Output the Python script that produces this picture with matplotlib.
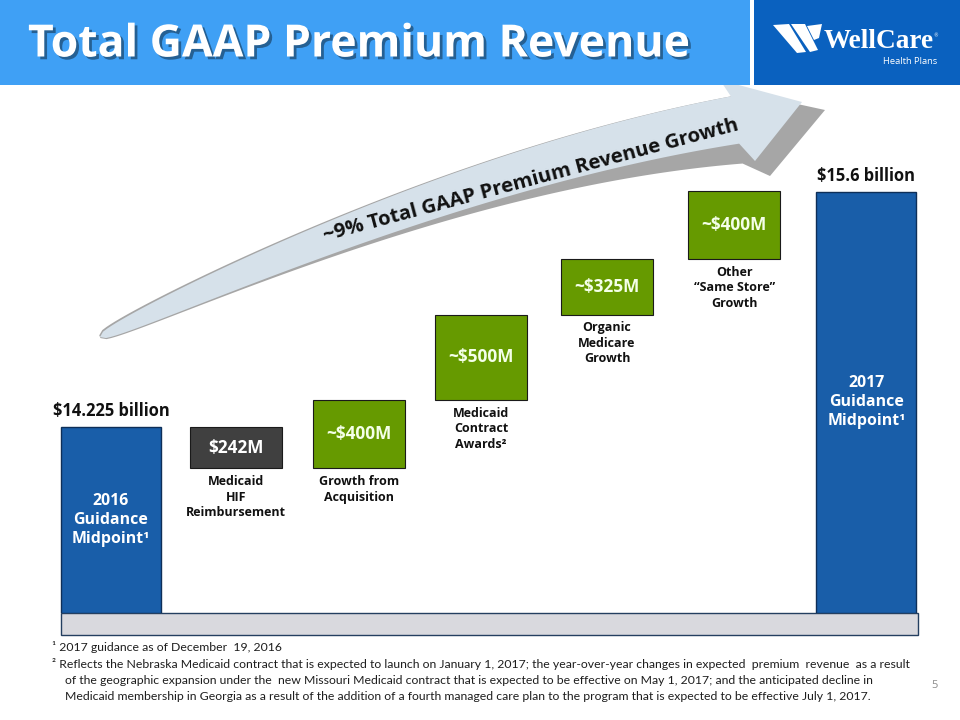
import numpy as np
import matplotlib
matplotlib.use("Agg")
import matplotlib.pyplot as plt
from matplotlib.patches import Polygon, Rectangle
import matplotlib.patheffects as pe
from matplotlib import font_manager as fm

# ---------------- data ----------------
categories = ["2016\nGuidance\nMidpoint¹",
              "Medicaid\nHIF\nReimbursement",
              "Growth from\nAcquisition",
              "Medicaid\nContract\nAwards²",
              "Organic\nMedicare\nGrowth",
              "Other\n“Same Store”\nGrowth",
              "2017\nGuidance\nMidpoint¹"]
start_total = 14225          # $M, 2016 guidance midpoint
end_total = 15600            # $M, 2017 guidance midpoint
changes = [-242, 400, 500, 325, 400]   # $M
change_labels = ["$242M", "~$400M", "~$500M", "~$325M", "~$400M"]
total_labels = ["$14.225 billion", "$15.6 billion"]
growth_text = "~9% Total GAAP Premium Revenue Growth"
title_text = "Total GAAP Premium Revenue"
footnote_lines = [
    "¹ 2017 guidance as of December  19, 2016",
    "² Reflects the Nebraska Medicaid contract that is expected to launch on January 1, 2017; the year-over-year changes in expected  premium  revenue  as a result",
    "of the geographic expansion under the  new Missouri Medicaid contract that is expected to be effective on May 1, 2017; and the anticipated decline in",
    "Medicaid membership in Georgia as a result of the addition of a fourth managed care plan to the program that is expected to be effective July 1, 2017.",
]
page_number = "5"

# ---------------- style / layout ----------------
W, H = 960, 720
BLUE = "#195ea9"
NAVY = "#0e2f58"
GREEN = "#669a00"
DGRAY = "#404040"
HEADER_LIGHT = "#3fa0f5"
HEADER_DARK = "#0a61bf"
FONT = "Open Sans"
names = {f.name for f in fm.fontManager.ttflist}
NARROW = "Liberation Sans Narrow" if "Liberation Sans Narrow" in names else "Lato"

xpos = np.array([0, 0.99, 1.97, 2.94, 3.94, 4.95, 6.0])   # slot positions
SLOT_PX0, SLOT_STEP = 111, 125.9
YMIN, YMAX = 13137, 16220
TOTAL_W, STEP_W = 0.794, 0.731

fig = plt.figure(figsize=(9.6, 7.2), dpi=100)
renderer = fig.canvas.get_renderer()


def fit(t, target_px):
    w = t.get_window_extent(renderer).width
    t.set_fontsize(t.get_fontsize() * target_px / w)
    return t.get_fontsize()


# background axes (pixel coordinates)
ax_bg = fig.add_axes([0, 0, 1, 1])
ax_bg.set_xlim(0, W); ax_bg.set_ylim(H, 0); ax_bg.axis("off")
ax_bg.set_zorder(0)

# ---- curved arrow ----
P0 = np.array([100.0, 337.0]); P1 = np.array([460.0, 168.0]); P2 = np.array([735.0, 120.0])
t = np.linspace(0, 1, 160)[:, None]
B = (1 - t) ** 2 * P0 + 2 * (1 - t) * t * P1 + t ** 2 * P2
dB = 2 * (1 - t) * (P1 - P0) + 2 * t * (P2 - P1)
up = np.column_stack([dB[:, 1], -dB[:, 0]])
up /= np.linalg.norm(up, axis=1)[:, None]
w = 48 * t ** 0.38
upper = B + up * w / 2
lower = B - up * w / 2
sh_upper = upper + up * (1.8 * (1 - t))
sh_lower = lower - up * (1.2 + 19 * t ** 2.2)
shadow = np.vstack([sh_upper, [[742, 92], [825, 110], [770, 176]], sh_lower[::-1]])
ax_bg.add_patch(Polygon(shadow, closed=True, facecolor="#a6a6a6", edgecolor="none"))
arrow = np.vstack([upper, [[720, 80], [802, 102], [755, 161]], lower[::-1]])
ax_bg.add_patch(Polygon(arrow, closed=True, facecolor="#d6e1ea", edgecolor="none"))
gt = ax_bg.text(531, 181, growth_text, ha="center", va="center", fontfamily=FONT,
                fontweight="bold", fontsize=13, color="#111111")
fit(gt, 425)
gt.set_rotation(15)
gt.set_rotation_mode("anchor")

# ---- base band ----
ax_bg.add_patch(Rectangle((61, 613), 857, 22, facecolor="#d9d9de", edgecolor="#243f60", lw=1.0))

# ---------------- chart axes ----------------
ax = fig.add_axes([0, (H - 613) / H, 1, (613 - 86) / H])
ax.set_zorder(1)
ax.patch.set_visible(False)
ax.axis("off")
ax.set_xlim(-SLOT_PX0 / SLOT_STEP, (W - SLOT_PX0) / SLOT_STEP)
ax.set_ylim(YMIN, YMAX)

totals = [start_total, end_total]
tx = [xpos[0], xpos[-1]]
ax.bar(tx, [v - YMIN for v in totals], bottom=YMIN, width=TOTAL_W,
       color=BLUE, edgecolor=NAVY, linewidth=1.0)

levels = start_total + np.concatenate([[0], np.cumsum(changes)])
bottoms = np.minimum(levels[:-1], levels[1:])
heights = np.abs(changes)
colors = [DGRAY if c < 0 else GREEN for c in changes]
ax.bar(xpos[1:6], heights, bottom=bottoms, width=STEP_W, color=colors,
       edgecolor="#1a1a1a", linewidth=0.8)

# value labels inside the step boxes
vsize = None
for i, (x, b, h, lab) in enumerate(zip(xpos[1:6], bottoms, heights, change_labels)):
    tt = ax.text(x, b + h / 2, lab, ha="center", va="center",
                 color="white" if changes[i] < 0 else "#f4ffe8",
                 fontfamily=FONT, fontweight="bold", fontsize=11)
    if i == 1:
        vsize = fit(tt, 65)
for tt in ax.texts:
    tt.set_fontsize(vsize)

# category labels under the step boxes
cat_texts = []
for x, b, cat in zip(xpos[1:6], bottoms, categories[1:6]):
    tt = ax.annotate(cat, xy=(x, b), xytext=(0, -5), textcoords="offset points",
                     ha="center", va="top", fontfamily=FONT, fontweight="bold",
                     fontsize=9, linespacing=1.25, color="#111111")
    cat_texts.append(tt)
csize = fit(cat_texts[0], 100)
for tt in cat_texts:
    tt.set_fontsize(csize)

# total labels above bars and text inside bars
tl = []
for x, v, lab in zip(tx, totals, total_labels):
    tt = ax.annotate(lab, xy=(x, v), xytext=(0, 5), textcoords="offset points",
                     ha="center", va="bottom", fontfamily=FONT, fontweight="bold",
                     fontsize=11, color="#111111")
    tl.append(tt)
tsize = fit(tl[0], 118)
tl[1].set_fontsize(tsize)

inner = []
for x, v, cat in zip(tx, totals, [categories[0], categories[-1]]):
    tt = ax.text(x, (YMIN + v) / 2, cat, ha="center", va="center", color="white",
                 fontfamily=FONT, fontweight="bold", fontsize=11, linespacing=1.25)
    inner.append(tt)
isize = fit(inner[0], 78)
inner[1].set_fontsize(isize)

# ---------------- foreground axes ----------------
ax_fg = fig.add_axes([0, 0, 1, 1])
ax_fg.set_zorder(2)
ax_fg.patch.set_visible(False)
ax_fg.set_xlim(0, W); ax_fg.set_ylim(H, 0); ax_fg.axis("off")

ax_fg.add_patch(Rectangle((0, 0), 750, 85, facecolor=HEADER_LIGHT, edgecolor="none"))
ax_fg.add_patch(Rectangle((754, 0), 206, 85, facecolor=HEADER_DARK, edgecolor="none"))
title = ax_fg.text(28, 45, title_text, ha="left", va="center", color="white",
                   fontfamily=FONT, fontweight="bold", fontsize=30,
                   path_effects=[pe.SimplePatchShadow(offset=(2, -2), shadow_rgbFace="black", alpha=0.4),
                                 pe.Normal()])
fit(title, 662)

# logo
swoosh = [
    [(773, 25), (789, 24), (806, 52), (797, 53)],
    [(791, 24), (805, 24), (818, 50), (810, 52)],
    [(807, 26), (822, 24), (819, 38), (814, 40)],
]
for s in swoosh:
    ax_fg.add_patch(Polygon(s, closed=True, facecolor="white", edgecolor="none"))
lg = ax_fg.text(824, 41, "WellCare", ha="left", va="center", color="white",
                fontfamily="Liberation Serif", fontweight="bold", fontsize=18)
fit(lg, 110)
ax_fg.text(936, 36, "®", ha="center", va="center", color="white", fontsize=3.5)
hp = ax_fg.text(937, 61, "Health Plans", ha="right", va="center", color="white",
                fontfamily=FONT, fontsize=6)
fit(hp, 55)

# footnotes
fy = [647, 664, 681, 697]
fx = [52, 52, 65, 65]
ft = []
for x, y, line in zip(fx, fy, footnote_lines):
    tt = ax_fg.text(x, y, line, ha="left", va="center", color="#1e1e1e",
                    fontfamily=NARROW, fontsize=8)
    ft.append(tt)
fsize = fit(ft[1], 862)
for tt in ft:
    tt.set_fontsize(fsize)

ax_fg.text(935, 686, page_number, ha="center", va="center", color="#8c8c8c",
           fontfamily=FONT, fontsize=8)

fig.savefig("out.png", dpi=100)
